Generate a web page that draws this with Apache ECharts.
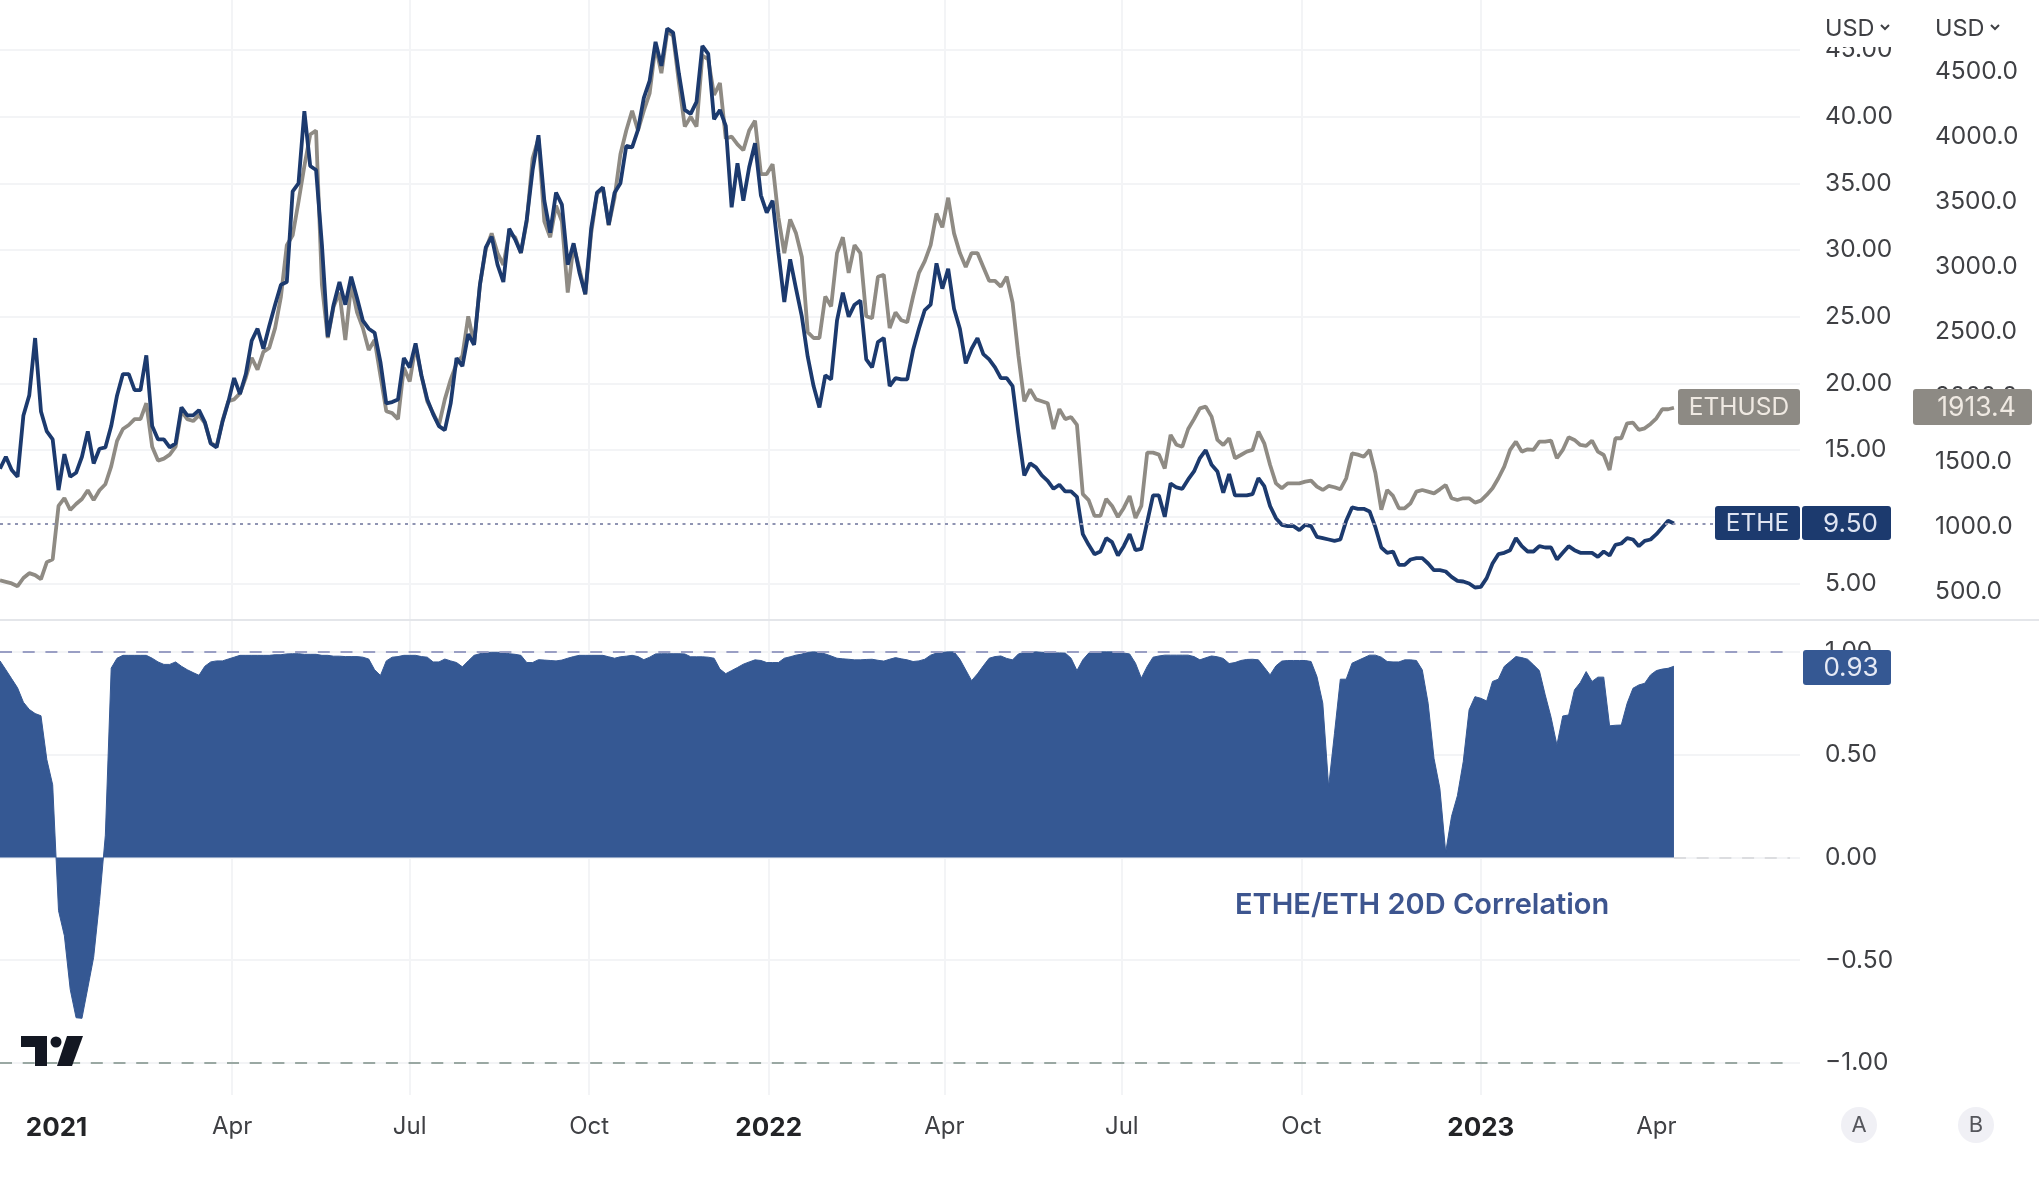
<!DOCTYPE html>
<html>
<head>
<meta charset="utf-8">
<title>ETHE vs ETHUSD</title>
<script src="https://cdn.jsdelivr.net/npm/echarts@6/dist/echarts.min.js"></script>
<style>
  html, body { margin: 0; background: #fff; }
  #chart { width: 2039px; height: 1182px; }
</style>
</head>
<body>
<div id="chart"></div>
<script>
// one reading every 3 days, from 2020-12-03
const startDate = Date.UTC(2020, 11, 3);
const stepDays = 3;

const etheValues = [
  13.6,14.5,13.5,13.0,17.6,19.1,23.4,17.9,16.4,15.8,12.0,14.7,13.0,13.3,14.5,16.4,14.0,15.1,15.2,16.8,
  19.1,20.7,20.7,19.5,19.5,22.1,16.8,15.8,15.8,15.2,15.5,18.2,17.6,17.6,18.0,17.1,15.5,15.2,17.1,18.6,
  20.4,19.2,20.7,23.2,24.1,22.6,24.3,25.9,27.4,27.6,34.4,35.0,40.4,36.3,36.0,30.4,23.5,25.9,27.6,25.9,
  28.0,26.4,24.7,24.1,23.8,21.6,18.5,18.6,18.8,21.9,21.2,23.0,20.6,18.8,17.7,16.8,16.5,18.5,21.9,21.3,
  23.7,22.9,27.4,30.2,31.0,28.9,27.6,31.6,30.8,29.8,32.3,36.0,38.6,33.7,31.3,34.3,33.4,28.9,30.5,28.3,
  26.7,31.6,34.3,34.7,31.9,34.3,35.0,37.8,37.7,39.0,41.4,42.7,45.6,43.8,46.6,46.3,43.2,40.5,40.2,41.1,
  45.3,44.7,39.8,40.5,39.3,33.2,36.5,33.7,36.2,38.0,34.1,32.8,33.7,29.8,26.1,29.3,27.1,25.0,22.0,19.8,
  18.2,20.6,20.3,24.7,26.8,25.0,25.9,26.2,21.8,21.2,23.1,23.4,19.8,20.4,20.3,20.3,22.5,24.1,25.5,25.9,
  29.0,27.1,28.6,25.6,24.1,21.5,22.6,23.4,22.2,21.8,21.2,20.4,20.4,19.8,16.3,13.1,14.0,13.7,13.1,12.7,
  12.1,12.4,11.9,11.9,11.5,8.7,7.9,7.2,7.4,8.4,8.1,7.1,7.8,8.7,7.5,7.6,9.6,11.6,11.6,10.0,
  12.5,12.2,12.1,12.8,13.4,14.4,15.0,13.9,13.4,11.8,13.2,11.6,11.6,11.6,11.7,12.9,12.3,10.8,9.9,9.4,
  9.3,9.3,9.0,9.4,9.3,8.5,8.4,8.3,8.2,8.3,9.7,10.7,10.6,10.6,10.4,9.2,7.7,7.3,7.4,6.4,
  6.4,6.8,6.9,6.9,6.5,6.0,6.0,5.9,5.5,5.2,5.15,5.0,4.7,4.75,5.4,6.5,7.2,7.3,7.5,8.4,
  7.8,7.4,7.4,7.8,7.7,7.7,6.8,7.3,7.8,7.5,7.3,7.3,7.3,7.0,7.4,7.1,7.9,8.0,8.4,8.3,
  7.8,8.2,8.3,8.7,9.2,9.7,9.5
];

const ethusdValues = [
  586,574,562,541,604,641,626,595,726,747,1158,1218,1127,1173,1212,1279,1203,1279,1325,1462,
  1659,1750,1781,1826,1826,1948,1614,1507,1522,1553,1614,1887,1826,1811,1857,1796,1644,1614,1811,1963,
  1978,2024,2146,2298,2207,2343,2374,2526,2769,3164,3240,3498,3772,4015,4046,2860,2450,2693,2799,2435,
  2860,2647,2526,2358,2435,2161,1887,1872,1826,2222,2115,2389,2161,1963,1872,1781,1978,2130,2252,2313,
  2617,2404,2860,3134,3255,3103,3012,3255,3225,3103,3347,3833,3985,3347,3225,3468,3347,2799,3164,2982,
  2784,3255,3559,3605,3316,3529,3863,4046,4198,4046,4198,4334,4699,4487,4806,4775,4411,4076,4152,4076,
  4623,4593,4319,4411,3985,3999,3939,3894,4046,4122,3711,3711,3787,3377,3103,3362,3255,3073,2495,2450,
  2450,2769,2693,3103,3225,2951,3164,3103,2617,2602,2921,2936,2526,2647,2586,2571,2769,2951,3042,3164,
  3407,3301,3529,3255,3103,2997,3103,3103,2997,2890,2890,2845,2921,2723,2313,1963,2055,1978,1963,1948,
  1750,1903,1826,1842,1781,1249,1203,1082,1082,1212,1158,1073,1143,1234,1066,1158,1568,1568,1553,1447,
  1705,1629,1614,1750,1826,1909,1922,1845,1666,1627,1679,1525,1550,1576,1589,1730,1640,1473,1332,1294,
  1332,1332,1332,1345,1353,1307,1281,1312,1302,1286,1371,1563,1553,1537,1589,1409,1130,1281,1235,1140,
  1140,1179,1268,1281,1268,1255,1286,1320,1217,1204,1217,1217,1184,1199,1243,1294,1371,1461,1589,1653,
  1576,1594,1589,1653,1653,1661,1525,1589,1686,1666,1627,1620,1661,1576,1550,1435,1679,1679,1794,1799,
  1743,1755,1789,1832,1902,1902,1913.4
];

const correlationValues = [
  .956,.913,.869,.825,.755,.72,.70,.689,.476,.353,-.259,-.381,-.643,-.78,-.783,-.635,-.486,-.215,.108,.921,
  .969,.983,.983,.983,.983,.983,.969,.951,.939,.939,.951,.93,.913,.899,.886,.93,.951,.956,.956,.965,
  .974,.983,.983,.983,.983,.983,.983,.986,.986,.99,.991,.991,.988,.988,.988,.983,.983,.979,.979,.977,
  .977,.977,.974,.965,.913,.885,.956,.974,.977,.983,.983,.983,.977,.974,.951,.951,.965,.956,.948,.927,
  .956,.983,.991,.997,.998,.998,.997,.991,.988,.983,.948,.948,.962,.96,.958,.956,.96,.969,.977,.983,
  .983,.983,.983,.983,.976,.969,.976,.979,.983,.977,.962,.974,.99,.991,.991,.991,.991,.99,.976,.976,
  .976,.974,.969,.916,.894,.909,.924,.94,.951,.961,.958,.948,.948,.948,.969,.976,.984,.989,.998,1.0,
  .998,.99,.98,.969,.966,.964,.961,.961,.963,.964,.959,.955,.964,.972,.966,.961,.953,.956,.964,.984,
  .994,.998,1.0,1.0,.964,.912,.86,.893,.932,.969,.977,.98,.968,.961,.99,.997,.998,1.0,.998,.997,
  .995,.995,.994,.969,.909,.961,.994,.997,1.0,1.0,1.0,.997,.994,.99,.945,.872,.929,.974,.98,.984,
  .984,.984,.984,.984,.977,.961,.971,.98,.976,.968,.943,.948,.958,.963,.964,.961,.925,.888,.932,.955,
  .958,.958,.958,.958,.953,.88,.75,.344,.604,.867,.867,.945,.958,.971,.984,.984,.974,.953,.951,.951,
  .961,.961,.958,.912,.75,.482,.336,.025,.2,.3,.466,.718,.782,.774,.761,.856,.867,.929,.953,.977,
  .972,.964,.937,.909,.791,.682,.547,.688,.693,.815,.851,.904,.856,.877,.877,.64,.643,.644,.75,.823,
  .839,.847,.888,.909,.916,.92,.93
];

const tickDates = ['2021-01-01','2021-04-01','2021-07-01','2021-10-01','2022-01-01','2022-04-01','2022-07-01','2022-10-01','2023-01-01','2023-04-01'];
const tickLabels = ['2021','Apr','Jul','Oct','2022','Apr','Jul','Oct','2023','Apr'];
const corrTicks = [-1, -0.5, 0, 0.5, 1];

const fontName = 'Inter';
const navy = '#1c3a6e';
const taupe = '#8f8b84';
const corrBlue = '#355893';
const labelColor = '#3f4044';
const gridColor = '#f3f4f6';

const dayMs = 86400000;
const dates = etheValues.map((_, i) => startDate + i * stepDays * dayMs);
const pairUp = (values) => values.map((v, i) => [dates[i], v]);

const tickTimes = tickDates.map(d => Date.parse(d));
const xMin = startDate;
const xMax = startDate + 922.6 * dayMs;
const dashEnd = startDate + 917.5 * dayMs;
const lastDate = dates[dates.length - 1];

// plain value axis on timestamps: custom ticks break the time scale's label formatter
const makeDateAxis = (gridIndex, extra) => Object.assign({
  type: 'value',
  gridIndex,
  min: xMin,
  max: xMax,
  axisLine: { show: false },
  axisTick: { show: false, customValues: tickTimes },
  axisLabel: { show: false, customValues: tickTimes },
  splitLine: { show: true, showMinLine: false, showMaxLine: false, lineStyle: { color: gridColor, width: 2 } },
  axisPointer: { show: false }
}, extra);

const priceLabel = {
  margin: 25, padding: [6, 0, 0, 0], fontFamily: fontName, fontSize: 24.5, color: labelColor
};

const dashedLevel = (y, from, to, color) => [
  { coord: [from, y], lineStyle: { color, width: 2, type: [12, 10.7] } },
  { coord: [to, y] }
];

// the little price tags on the right are drawn over the axis labels
const tag = (x, y, w, h, fill, text, color, size, shift = 0) => ([
  { type: 'rect', z: 60, shape: { x, y, width: w, height: h, r: 3 }, style: { fill } },
  { type: 'text', z: 61, x: x + w / 2 + shift, y: y + h / 2 + 1, style: { text, fill: color, font: `${size}px ${fontName}`, align: 'center', verticalAlign: 'middle' } }
]);

const usdMenu = (x) => ([
  { type: 'text', z: 61, x, y: 29, style: { text: 'USD', fill: labelColor, font: `23.5px ${fontName}`, verticalAlign: 'middle' } },
  { type: 'polyline', z: 61, shape: { points: [[x + 56, 25], [x + 60, 29], [x + 64, 25]] }, style: { stroke: labelColor, lineWidth: 2, fill: 'none' } }
]);

const scaleButton = (x, text) => ([
  { type: 'circle', z: 60, shape: { cx: x, cy: 1125, r: 18 }, style: { fill: '#f0f0f5' } },
  { type: 'text', z: 61, x, y: 1125, style: { text, fill: '#55565c', font: `22px ${fontName}`, align: 'center', verticalAlign: 'middle' } }
]);

const logo = [
  { type: 'polygon', z: 61, shape: { points: [[21, 1036], [47, 1036], [47, 1066], [35, 1066], [35, 1047], [21, 1047]] }, style: { fill: '#131722' } },
  { type: 'circle', z: 61, shape: { cx: 56, cy: 1042, r: 5.5 }, style: { fill: '#131722' } },
  { type: 'polygon', z: 61, shape: { points: [[67, 1036], [83, 1036], [72, 1066], [57, 1066]] }, style: { fill: '#131722' } }
];

const option = {
  animation: false,
  backgroundColor: '#fff',
  textStyle: { fontFamily: fontName },
  grid: [
    { left: 0, width: 1800, top: -16.8, height: 667, outerBoundsMode: 'none' },     // ETHE
    { left: 0, width: 1800, top: 6.5, height: 650, outerBoundsMode: 'none' },       // ETHUSD
    { left: 0, width: 1800, top: 620, height: 475, outerBoundsMode: 'none' }        // correlation
  ],
  xAxis: [
    makeDateAxis(0),
    makeDateAxis(1, { show: false }),
    makeDateAxis(2, {
      axisLabel: {
        show: true,
        customValues: tickTimes,
        margin: 20,
        fontFamily: fontName,
        fontSize: 24,
        color: labelColor,
        hideOverlap: false,
        formatter: (value) => {
          const text = tickLabels[tickTimes.indexOf(value)] || '';
          return /^\d/.test(text) ? `{year|${text}}` : text;
        },
        rich: { year: { fontFamily: fontName, fontSize: 26, fontWeight: 700, color: '#232427' } }
      }
    })
  ],
  yAxis: [
    {
      type: 'value', gridIndex: 0, position: 'right', min: 0, max: 50, interval: 5,
      axisLine: { show: false }, axisTick: { show: false },
      splitLine: { lineStyle: { color: gridColor, width: 2 }, showMinLine: false, showMaxLine: false },
      axisLabel: Object.assign({}, priceLabel, {
        showMinLabel: false, showMaxLabel: false,
        formatter: v => v.toFixed(2)
      })
    },
    {
      type: 'value', gridIndex: 1, position: 'right', offset: 110, min: 0, max: 5000, interval: 500,
      axisLine: { show: false }, axisTick: { show: false }, splitLine: { show: false },
      axisLabel: Object.assign({}, priceLabel, {
        showMinLabel: false, showMaxLabel: false,
        formatter: v => v.toFixed(1)
      })
    },
    {
      type: 'value', gridIndex: 2, position: 'right', min: -1.156, max: 1.155,
      axisLine: { show: false },
      axisTick: { show: false, customValues: corrTicks },
      splitLine: { lineStyle: { color: gridColor, width: 2 } },
      axisLabel: Object.assign({}, priceLabel, {
        customValues: corrTicks,
        formatter: v => v.toFixed(2).replace('-', '\u2212')
      })
    }
  ],
  series: [
    {
      name: 'ETHUSD', type: 'line', xAxisIndex: 1, yAxisIndex: 1, z: 3,
      data: pairUp(ethusdValues), showSymbol: false,
      lineStyle: { color: taupe, width: 3.8 }, itemStyle: { color: taupe }
    },
    {
      name: 'ETHE', type: 'line', xAxisIndex: 0, yAxisIndex: 0, z: 4,
      data: pairUp(etheValues), showSymbol: false, clip: false,
      lineStyle: { color: navy, width: 3.8 }, itemStyle: { color: navy },
      markLine: {
        silent: true, symbol: 'none', label: { show: false },
        lineStyle: { color: '#8f94b2', width: 2, type: [3, 4.5] },
        data: [{ yAxis: 9.5 }]
      }
    },
    {
      name: 'ETHE/ETH 20D Correlation', type: 'line', xAxisIndex: 2, yAxisIndex: 2, z: 3,
      data: pairUp(correlationValues), showSymbol: false,
      lineStyle: { color: corrBlue, width: 1 }, itemStyle: { color: corrBlue },
      areaStyle: { color: corrBlue, opacity: 1 },
      markLine: {
        silent: true, symbol: 'none', label: { show: false },
        data: [
          dashedLevel(1, xMin, dashEnd, '#9a9fc4'),
          dashedLevel(0, lastDate, dashEnd, '#dcdde0'),
          dashedLevel(-1, xMin, dashEnd, '#9aa8a3')
        ]
      }
    }
  ],
  graphic: { elements: [
    { type: 'rect', z: 50, shape: { x: 1803, y: 0, width: 100, height: 47 }, style: { fill: '#fff' } },
    { type: 'line', z: 20, shape: { x1: 0, y1: 620, x2: 2039, y2: 620 }, style: { stroke: '#e4e6ea', lineWidth: 2 } },
    ...usdMenu(1825),
    ...usdMenu(1935),
    ...tag(1678, 389, 122, 36, '#8d8a84', 'ETHUSD', '#efe9e2', 24.5),
    ...tag(1913, 389, 119, 36, '#8d8a84', '1913.4', '#efe9e2', 26.5, 4),
    ...tag(1715, 506, 85, 34, navy, 'ETHE', '#dfe4f2', 24.5),
    ...tag(1802, 506, 89, 34, navy, '9.50', '#dfe4f2', 26, 4),
    ...tag(1803, 650, 88, 35, corrBlue, '0.93', '#e6eaf5', 26, 4),
    { type: 'text', z: 61, x: 1235, y: 905, style: { text: 'ETHE/ETH 20D Correlation', fill: '#3d558f', font: `600 29px ${fontName}`, verticalAlign: 'middle' } },
    ...scaleButton(1859, 'A'),
    ...scaleButton(1976, 'B'),
    ...logo
  ] }
};

const chart = echarts.init(document.getElementById('chart'));
chart.setOption(option);
</script>
</body>
</html>
